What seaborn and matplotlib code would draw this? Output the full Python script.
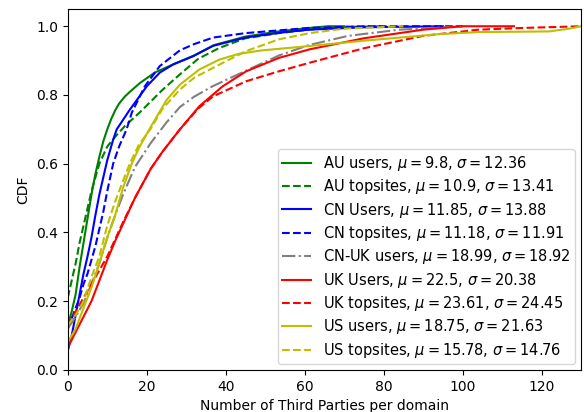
import matplotlib
matplotlib.use("Agg")
import matplotlib.pyplot as plt
import seaborn as sns

# ---- data (x = third parties, y = CDF) ----
au_users_x = [0, 1, 2, 3, 4, 5, 6, 7, 8, 9, 10, 11, 12, 13, 14.5, 16, 18.3, 22, 26.7, 32, 37, 45, 53.5, 61, 66, 70]
au_users_y = [0.13, 0.17, 0.22, 0.30, 0.37, 0.44, 0.51, 0.57, 0.62, 0.665, 0.70, 0.73, 0.755, 0.775, 0.796, 0.812, 0.835, 0.865, 0.889, 0.915, 0.945, 0.97, 0.985, 0.995, 1.0, 1.0]

au_top_x = [0, 1, 2, 3, 4, 5, 6, 7, 8, 10, 12.5, 14.5, 18.3, 24, 28.4, 33, 38.4, 45, 53.5, 61, 70, 80]
au_top_y = [0.21, 0.26, 0.31, 0.37, 0.42, 0.47, 0.52, 0.56, 0.60, 0.65, 0.685, 0.71, 0.75, 0.815, 0.86, 0.905, 0.937, 0.965, 0.98, 0.99, 0.998, 1.0]

cn_users_x = [0, 1, 2, 3, 4, 5, 6, 7, 8, 9, 10, 11.5, 12.4, 15.7, 20, 23.3, 26.7, 31.8, 36.8, 45, 53.5, 61, 75, 95]
cn_users_y = [0.055, 0.10, 0.16, 0.22, 0.28, 0.33, 0.385, 0.45, 0.51, 0.56, 0.61, 0.67, 0.70, 0.757, 0.825, 0.865, 0.889, 0.913, 0.943, 0.967, 0.981, 0.99, 0.997, 1.0]

cn_top_x = [0, 1, 2, 3, 4, 5, 6, 7, 8, 9, 10, 11.5, 13, 14.9, 16.2, 19.5, 23.3, 28.4, 32, 36.8, 45, 53.5, 61, 75, 100]
cn_top_y = [0.12, 0.15, 0.18, 0.21, 0.25, 0.28, 0.32, 0.36, 0.41, 0.46, 0.52, 0.60, 0.65, 0.70, 0.748, 0.825, 0.884, 0.93, 0.948, 0.967, 0.98, 0.988, 0.995, 1.0, 1.0]

cnuk_x = [0, 2, 4, 6, 8, 10, 12, 14, 17, 21, 25, 28.4, 32, 36.6, 45, 53.5, 61, 71, 84, 100]
cnuk_y = [0.12, 0.155, 0.195, 0.25, 0.31, 0.385, 0.45, 0.51, 0.59, 0.66, 0.72, 0.765, 0.795, 0.825, 0.87, 0.915, 0.945, 0.972, 0.99, 1.0]

uk_users_x = [0, 2, 4, 6, 8, 10, 12, 14, 17, 21, 24, 28.4, 33.3, 39.2, 45.2, 53.5, 61.3, 75, 90, 100, 113]
uk_users_y = [0.065, 0.11, 0.155, 0.20, 0.26, 0.32, 0.375, 0.425, 0.50, 0.585, 0.635, 0.70, 0.767, 0.825, 0.869, 0.908, 0.933, 0.965, 0.99, 1.0, 1.0]

uk_top_x = [0, 2, 4, 6, 8, 10, 12, 14, 17, 21, 24, 28.4, 33, 36.8, 45.2, 53.5, 61.3, 75, 90, 104, 115, 130]
uk_top_y = [0.13, 0.17, 0.21, 0.25, 0.29, 0.33, 0.38, 0.43, 0.50, 0.585, 0.635, 0.70, 0.76, 0.796, 0.84, 0.869, 0.894, 0.936, 0.972, 0.99, 0.995, 1.0]

us_users_x = [0, 2, 4, 6, 8, 10, 12, 14, 16.2, 18, 20.4, 25, 28.4, 33.3, 38.4, 43.4, 49.3, 59, 75, 94, 104, 122, 127, 130]
us_users_y = [0.08, 0.12, 0.18, 0.24, 0.31, 0.385, 0.45, 0.53, 0.60, 0.645, 0.695, 0.785, 0.83, 0.874, 0.903, 0.92, 0.93, 0.94, 0.958, 0.977, 0.983, 0.985, 0.993, 1.0]

us_top_x = [0, 2, 4, 6, 8, 10, 12, 14, 15.7, 18, 20.9, 24, 28.4, 32, 36.8, 45.2, 53.5, 61.3, 70, 85]
us_top_y = [0.13, 0.16, 0.20, 0.27, 0.33, 0.42, 0.49, 0.55, 0.60, 0.655, 0.70, 0.76, 0.816, 0.85, 0.879, 0.928, 0.962, 0.98, 0.993, 1.0]

labels = [
    r"AU users, $\mu=9.8$, $\sigma=12.36$",
    r"AU topsites, $\mu=10.9$, $\sigma=13.41$",
    r"CN Users, $\mu=11.85$, $\sigma=13.88$",
    r"CN topsites, $\mu=11.18$, $\sigma=11.91$",
    r"CN-UK users, $\mu=18.99$, $\sigma=18.92$",
    r"UK Users, $\mu=22.5$, $\sigma=20.38$",
    r"UK topsites, $\mu=23.61$, $\sigma=24.45$",
    r"US users, $\mu=18.75$, $\sigma=21.63$",
    r"US topsites, $\mu=15.78$, $\sigma=14.76$",
]

series = [
    (au_users_x, au_users_y, "g", "-"),
    (au_top_x, au_top_y, "g", "--"),
    (cn_users_x, cn_users_y, "b", "-"),
    (cn_top_x, cn_top_y, "b", "--"),
    (cnuk_x, cnuk_y, "gray", "-."),
    (uk_users_x, uk_users_y, "r", "-"),
    (uk_top_x, uk_top_y, "r", "--"),
    (us_users_x, us_users_y, "y", "-"),
    (us_top_x, us_top_y, "y", "--"),
]

fig = plt.figure(figsize=(5.84, 4.12), dpi=100)
ax = fig.add_axes([0.116, 0.102, 0.879, 0.876])

for (xs, ys, c, ls), lab in zip(series, labels):
    sns.lineplot(x=xs, y=ys, color=c, linestyle=ls, linewidth=1.5, label=lab, ax=ax, sort=False)

ax.set_xlim(0, 130)
ax.set_ylim(0, 1.05)
ax.set_xticks([0, 20, 40, 60, 80, 100, 120])
ax.set_yticks([0.0, 0.2, 0.4, 0.6, 0.8, 1.0])
ax.set_xlabel("Number of Third Parties per domain")
ax.set_ylabel("CDF")
ax.legend(loc="lower right", fontsize=10.5, labelspacing=0.3, borderpad=0.3,
          borderaxespad=0.4)

fig.savefig("out.png", dpi=100)
